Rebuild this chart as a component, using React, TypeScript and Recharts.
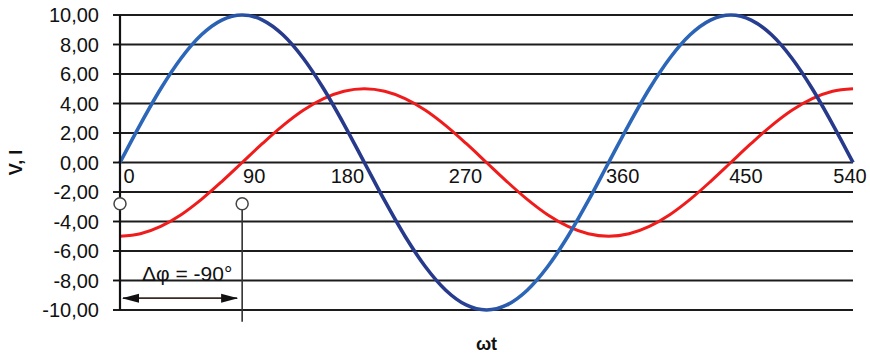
import React from "react"
import { LineChart, Line, XAxis, YAxis, CartesianGrid, ReferenceDot, ReferenceLine } from "recharts"

// phase angle in degrees
const angles = [
  0, 15, 30, 45, 60, 75, 90, 105, 120, 135, 150, 165, 180, 195, 210, 225, 240, 255, 270,
  285, 300, 315, 330, 345, 360, 375, 390, 405, 420, 435, 450, 465, 480, 495, 510, 525, 540,
]

// voltage V (blue)
const voltage = [
  0, 2.59, 5.0, 7.07, 8.66, 9.66, 10.0, 9.66, 8.66, 7.07, 5.0, 2.59, 0, -2.59, -5.0, -7.07, -8.66, -9.66, -10.0,
  -9.66, -8.66, -7.07, -5.0, -2.59, 0, 2.59, 5.0, 7.07, 8.66, 9.66, 10.0, 9.66, 8.66, 7.07, 5.0, 2.59, 0,
]

// current I (red)
const current = [
  -5.0, -4.83, -4.33, -3.54, -2.5, -1.29, 0, 1.29, 2.5, 3.54, 4.33, 4.83, 5.0, 4.83, 4.33, 3.54, 2.5, 1.29, 0,
  -1.29, -2.5, -3.54, -4.33, -4.83, -5.0, -4.83, -4.33, -3.54, -2.5, -1.29, 0, 1.29, 2.5, 3.54, 4.33, 4.83, 5.0,
]

const xTicks = [0, 90, 180, 270, 360, 450, 540]
const yTicks = [-10, -8, -6, -4, -2, 0, 2, 4, 6, 8, 10]

// horizontal nudges of the x tick labels, as in the original figure
const xLabelNudge: Record<number, number> = { 0: 9, 90: 12, 180: -17, 270: -21, 360: 14, 450: 15, 540: -3 }

const data = angles.map((a, i) => ({ wt: a, V: voltage[i], I: current[i] }))

const XTick = (props: any) => {
  const { x, y, payload } = props
  return (
    <text x={x + (xLabelNudge[payload.value] ?? 0)} y={y - 127} textAnchor="middle" fontSize={20} fill="#111">
      {payload.value}
    </text>
  )
}

const ArrowShape = (props: any) => {
  const { x1, y1, x2, y2 } = props
  return (
    <line
      x1={x1}
      y1={y1}
      x2={x2}
      y2={y2}
      stroke="#3a2a24"
      strokeWidth={1.8}
      markerStart="url(#arrowStart)"
      markerEnd="url(#arrowEnd)"
    />
  )
}

export default function App() {
  return (
    <div style={{ position: "absolute", left: 0, top: 0, width: 870, height: 354, background: "#fff", fontFamily: "'Liberation Sans', Arial, sans-serif" }}>
      <LineChart width={870} height={354} data={data} margin={{ top: 15, right: 17, bottom: 0, left: 0 }}>
        <defs>
          <linearGradient id="vGrad" x1="0" y1="0" x2="1" y2="0">
            <stop offset="0" stopColor="#2b66b8" />
            <stop offset="0.12" stopColor="#2b66b8" />
            <stop offset="0.22" stopColor="#27398b" />
            <stop offset="0.45" stopColor="#27398b" />
            <stop offset="0.55" stopColor="#2b66b8" />
            <stop offset="0.78" stopColor="#2b66b8" />
            <stop offset="0.88" stopColor="#27398b" />
            <stop offset="1" stopColor="#27398b" />
          </linearGradient>
          <marker id="arrowEnd" markerWidth="17" markerHeight="11" refX="16" refY="5.5" orient="auto" markerUnits="userSpaceOnUse">
            <path d="M0,1 L17,5.5 L0,10 Z" fill="#111" />
          </marker>
          <marker id="arrowStart" markerWidth="17" markerHeight="11" refX="1" refY="5.5" orient="auto" markerUnits="userSpaceOnUse">
            <path d="M17,1 L0,5.5 L17,10 Z" fill="#111" />
          </marker>
        </defs>
        <CartesianGrid vertical={false} stroke="#1c1c1c" strokeWidth={1.9} />
        <XAxis
          dataKey="wt"
          type="number"
          domain={[0, 540]}
          ticks={xTicks}
          axisLine={false}
          tickLine={false}
          tickSize={0}
          tickMargin={0}
          height={44}
          tick={<XTick />}
          label={{ value: "ωt", position: "insideBottom", offset: 4, fontSize: 18, fontWeight: "bold", fill: "#111" }}
        />
        <YAxis
          type="number"
          domain={[-10, 10]}
          ticks={yTicks}
          width={120}
          tickSize={7}
          tickMargin={14}
          axisLine={{ stroke: "#111", strokeWidth: 2.2 }}
          tickLine={{ stroke: "#111", strokeWidth: 1.9 }}
          tick={{ fontSize: 20, fill: "#111" }}
          tickFormatter={(v: number) => v.toFixed(2).replace(".", ",")}
          label={{ value: "V, I", angle: -90, position: "insideLeft", offset: 16, fontSize: 18, fontWeight: "bold", fill: "#111", style: { textAnchor: "middle" } }}
        />
        <Line type="monotone" dataKey="I" stroke="#f01c1c" strokeWidth={3} dot={false} isAnimationActive={false} />
        <Line type="monotone" dataKey="V" stroke="url(#vGrad)" strokeWidth={3.6} dot={false} isAnimationActive={false} />
        <ReferenceLine
          segment={[{ x: 90, y: -2.8 }, { x: 90, y: -10.8 }]}
          ifOverflow="visible"
          stroke="#333"
          strokeWidth={1.6}
        />
        <ReferenceLine
          segment={[{ x: 2.2, y: -9.2 }, { x: 86.3, y: -9.2 }]}
          ifOverflow="visible"
          shape={<ArrowShape />}
        />
        <ReferenceDot
          x={49.5}
          y={-9.2}
          r={0}
          ifOverflow="visible"
          label={{ value: "Δφ = -90°", position: "top", offset: 17, fontSize: 21, fill: "#111" }}
        />
        <ReferenceDot x={0} y={-2.8} r={6} fill="#fff" stroke="#444" strokeWidth={1.5} ifOverflow="visible" />
        <ReferenceDot x={90} y={-2.8} r={6} fill="#fff" stroke="#444" strokeWidth={1.5} ifOverflow="visible" />
      </LineChart>
    </div>
  )
}
